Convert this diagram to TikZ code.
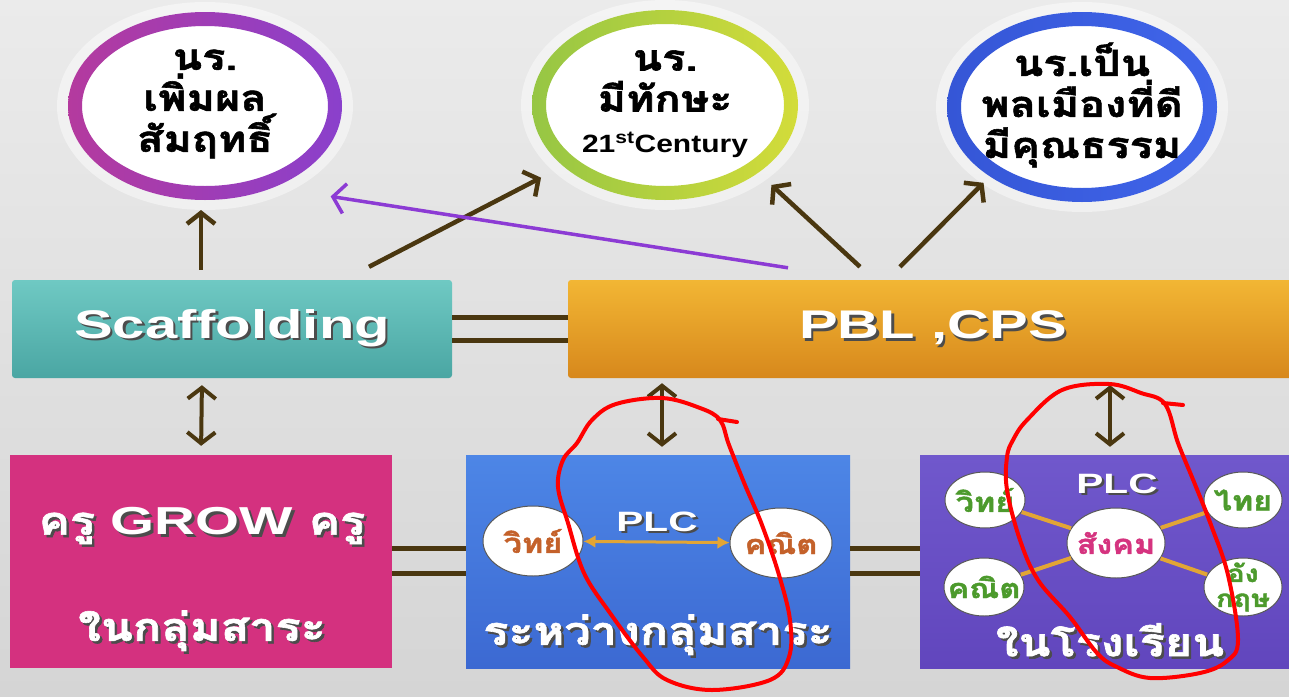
\documentclass[tikz,border=0pt]{standalone}
\usepackage{fontspec}
\usetikzlibrary{arrows.meta,shapes.geometric,calc}
\setmainfont{Liberation Sans}
\newfontfamily\thaiw[Script=Thai,FakeStretch=1.2,BoldFeatures={FakeBold=1.6}]{Loma}
\newfontfamily\latw[FakeStretch=1.45]{Liberation Sans}
\newfontfamily\latc[FakeStretch=1.2]{Liberation Sans}
\newcommand\sh[1]{\rlap{\kern2.5pt\raisebox{-2.5pt}{\textcolor{black!70}{#1}}}#1}
\pgfdeclareradialshading{innershadow}{\pgfpoint{0bp}{0bp}}{color(0bp)=(white); color(30bp)=(white); color(42bp)=(black!12); color(45bp)=(black!22); color(50bp)=(black!22)}
\definecolor{bgtop}{HTML}{EBEBEB}
\definecolor{bgbot}{HTML}{D5D5D5}
\definecolor{teala}{HTML}{6FC9C3}
\definecolor{tealb}{HTML}{4AA6A3}
\definecolor{orga}{HTML}{F2B634}
\definecolor{orgb}{HTML}{D7881C}
\definecolor{pinkb}{HTML}{D4317F}
\definecolor{bluea}{HTML}{4D86E6}
\definecolor{blueb}{HTML}{3C69D2}
\definecolor{purpa}{HTML}{7058CC}
\definecolor{purpb}{HTML}{6146BD}
\definecolor{brn}{HTML}{4A3710}
\definecolor{violetarr}{HTML}{8C3BD4}
\definecolor{ringal}{HTML}{B43A9E}
\definecolor{ringar}{HTML}{8A40CC}
\definecolor{ringbl}{HTML}{96C644}
\definecolor{ringbr}{HTML}{D3DC3A}
\definecolor{ringcl}{HTML}{3556D6}
\definecolor{ringcr}{HTML}{4065EA}
\definecolor{orng}{HTML}{E2A535}
\definecolor{txtbr}{HTML}{C4612A}
\definecolor{txtgr}{HTML}{4C9A2C}
\definecolor{txtpk}{HTML}{D5337F}
\tikzset{
  bigcirc/.style={ellipse, draw=none, outer sep=0pt, shade, shading=innershadow},
  halo/.style={fill=white, opacity=0.45},
  ctext/.style={align=center, text=black, inner sep=0pt,
    font=\thaiw\bfseries\fontsize{36}{41}\selectfont},
  bx/.style={rectangle, rounded corners=3pt, inner sep=0pt, minimum height=98pt, text=white,
    font=\latw\bfseries\fontsize{40}{48}\selectfont},
  lowbox/.style={rectangle, inner sep=0pt, minimum height=213pt},
  wtext/.style={text=white, inner sep=0pt, font=\thaiw\bfseries\fontsize{39}{44}\selectfont},
  plc/.style={text=white, inner sep=0pt, font=\latw\bfseries\fontsize{28}{32}\selectfont},
  smc/.style={ellipse, fill=white, draw=black!65, line width=1pt, inner sep=0pt},
  smt/.style={inner sep=0pt, align=center, font=\thaiw\bfseries\fontsize{27}{27}\selectfont},
  uparr/.style={draw=brn, line width=4.5pt, -{Straight Barb[length=11pt,width=28pt]}},
  dblarr/.style={draw=brn, line width=4pt,
    {Straight Barb[length=11pt,width=28pt]}-{Straight Barb[length=11pt,width=28pt]}},
  dline/.style={draw=brn, line width=5pt},
  spoke/.style={draw=orng, line width=4pt},
  redmark/.style={draw=red, line width=4pt, line cap=round, line join=round}
}
\begin{document}
\begin{tikzpicture}[x=1pt,y=-1pt]
\useasboundingbox (0,0) rectangle (1289,696);
\fill[top color=bgtop, bottom color=bgbot] (0,0) rectangle (1289,696);

% halos
\path[halo] (205,106) ellipse [x radius=148, y radius=104];
\path[halo] (665,105) ellipse [x radius=144, y radius=105];
\path[halo] (1082,107) ellipse [x radius=146, y radius=105];

% circles
\node[bigcirc, minimum width=274pt, minimum height=188pt] (c1) at (205,106) {};
\node[bigcirc, minimum width=266pt, minimum height=190pt] (c2) at (665,105) {};
\node[bigcirc, minimum width=270pt, minimum height=190pt] (c3) at (1082,107) {};
\shade[left color=ringal, right color=ringar, even odd rule]
  (c1.center) ellipse [x radius=137, y radius=94] (c1.center) ellipse [x radius=123, y radius=80];
\shade[left color=ringbl, right color=ringbr, even odd rule]
  (c2.center) ellipse [x radius=133, y radius=95] (c2.center) ellipse [x radius=119, y radius=81];
\shade[left color=ringcl, right color=ringcr, even odd rule]
  (c3.center) ellipse [x radius=135, y radius=95] (c3.center) ellipse [x radius=121, y radius=81];
\node[ctext] (c1t) at (205,104) {นร.\\เพิ่มผล\\สัมฤทธิ์};
\node[ctext] (c2t) at (665,104) {นร.\\มีทักษะ\\{\latc\bfseries\fontsize{25}{30}\selectfont 21\textsuperscript{st}Century}};
\node[ctext] (c3t) at (1082,105) {นร.เป็น\\พลเมืองที่ดี\\มีคุณธรรม};

% middle boxes
\node[bx, minimum width=440pt, top color=teala, bottom color=tealb] (scaf) at (232,329) {\sh{Scaffolding}};
\node[bx, minimum width=730pt, top color=orga, bottom color=orgb] (pbl) at (933,329) {\sh{PBL ,CPS}};

% lower boxes
\node[lowbox, minimum width=382pt, fill=pinkb] (grow) at (201,561.5) {};
\node[lowbox, minimum width=384pt, top color=bluea, bottom color=blueb] (betw) at (658,561.5) {};
\node[lowbox, minimum width=380pt, top color=purpa, bottom color=purpb] (insc) at (1110,561.5) {};

\node[wtext] (growa) at (202,527) {\sh{ครู {\latw GROW} ครู}};
\node[wtext] (growb) at (202,632) {\sh{ในกลุ่มสาระ}};

% between-subject PLC
\node[smc, minimum width=100pt, minimum height=70pt] (bsci) at (533,541) {};
\node[smc, minimum width=102pt, minimum height=70pt] (bmat) at (781,543) {};
\node[smt, text=txtbr] (bscit) at (bsci) {วิทย์};
\node[smt, text=txtbr] (bmatt) at (bmat) {คณิต};
\node[plc] (bplc) at (657,523) {\sh{PLC}};
\draw[draw=orng, line width=3pt, {Latex[length=12pt,width=13pt]}-{Latex[length=12pt,width=13pt]}] (bsci) -- (bmat);
\node[wtext] (betwt) at (658,636) {\sh{ระหว่างกลุ่มสาระ}};

% in-school PLC
\node[smc, minimum width=98pt, minimum height=70pt] (soc) at (1116,543) {};
\node[smc, minimum width=80pt, minimum height=56pt] (psci) at (985,500) {};
\node[smc, minimum width=80pt, minimum height=58pt] (pmat) at (984,587) {};
\node[smc, minimum width=78pt, minimum height=56pt] (pthai) at (1243,500) {};
\node[smc, minimum width=78pt, minimum height=58pt] (peng) at (1243,587) {};
\draw[spoke] (soc) -- (psci);
\draw[spoke] (soc) -- (pmat);
\draw[spoke] (soc) -- (pthai);
\draw[spoke] (soc) -- (peng);
\node[smt, text=txtpk] (soct) at (soc) {สังคม};
\node[smt, text=txtgr] (pscit) at (psci) {วิทย์};
\node[smt, text=txtgr] (pmatt) at (pmat) {คณิต};
\node[smt, text=txtgr] (pthait) at (pthai) {ไทย};
\node[smt, text=txtgr, font=\thaiw\bfseries\fontsize{24}{25}\selectfont] (pengt) at (peng) {อัง\\กฤษ};
\node[plc] (pplc) at (1117,485) {\sh{PLC}};
\node[wtext] (insct) at (1110,641) {\sh{ในโรงเรียน}};

% double lines
\draw[dline] ([yshift=12pt]scaf.east) -- ([yshift=12pt]pbl.west);
\draw[dline] ([yshift=-11pt]scaf.east) -- ([yshift=-11pt]pbl.west);
\draw[dline] ([yshift=13.5pt]grow.east) -- ([yshift=13.5pt]betw.west);
\draw[dline] ([yshift=-11.5pt]grow.east) -- ([yshift=-11.5pt]betw.west);
\draw[dline] ([yshift=13.5pt]betw.east) -- ([yshift=13.5pt]insc.west);
\draw[dline] ([yshift=-11.5pt]betw.east) -- ([yshift=-11.5pt]insc.west);

% vertical double arrows
\draw[dblarr, shorten <=7pt, shorten >=9pt] ($(scaf.south)+(-30,0)$) -- (grow.north);
\draw[dblarr, shorten <=5pt, shorten >=8pt] ($(pbl.south -| betw.north)+(4,0)$) -- ($(betw.north)+(4,0)$);
\draw[dblarr, shorten <=7pt, shorten >=8pt] (pbl.south -| insc.north) -- (insc.north);

% upward arrows
\draw[uparr, shorten >=10pt] ($(scaf.north)+(-31,-10)$) -- ($(c1.south)+(-4,0)$);
\draw[uparr, shorten >=25pt] ($(scaf.north)+(137,-13)$) -- (c2.211.6);
\draw[uparr, shorten >=18pt] ($(pbl.north)+(-73,-13)$) -- (c2.324.7);
\draw[uparr, shorten >=9pt] ($(pbl.north)+(-33,-13)$) -- (c3.217);
\draw[draw=violetarr, line width=3.5pt, -{Straight Barb[length=12pt,width=30pt]}, shorten >=58pt]
  ($(pbl.north)+(-145,-12)$) -- (c1.310);

% red hand-drawn marks
\draw[redmark] plot[smooth cycle, tension=0.6] coordinates {(577,443) (592,420) (616,404) (662,398) (700,408) (720,420) (729,445) (745,485) (762,525) (779,575) (790,620) (789,657) (770,680) (712,690) (667,680) (643,657) (610,613) (584,573) (568,523) (558,487) (563,460)};
\draw[redmark] (718,419) -- (737,422);
\draw[redmark] plot[smooth cycle, tension=0.6] coordinates {(1013,440) (1027,420) (1062,390) (1109,384) (1141,393) (1165,404) (1178,443) (1194,482) (1211,525) (1228,575) (1238,640) (1227,661) (1200,673) (1150,678) (1117,667) (1097,653) (1070,617) (1038,580) (1020,540) (1007,490) (1007,457)};
\draw[redmark] (1163,403) -- (1183,405);
\end{tikzpicture}
\end{document}
